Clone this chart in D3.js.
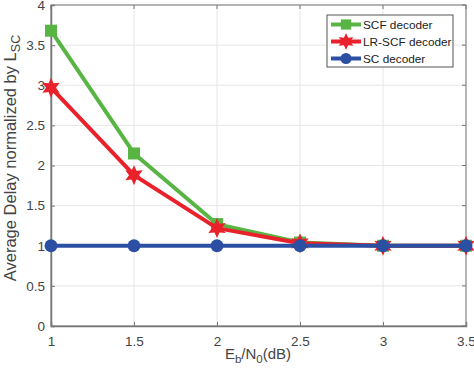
<!DOCTYPE html>
<html><head><meta charset="utf-8">
<script src="https://cdn.jsdelivr.net/npm/d3@7"></script>
<style>body{margin:0;background:#fff}svg{display:block}text{font-family:"Liberation Sans",Arial,sans-serif}</style>
</head><body>
<svg id="c" width="474" height="373"></svg>
<script>
const xValues = [1, 1.5, 2, 2.5, 3, 3.5];
const scfValues = [3.68, 2.15, 1.27, 1.04, 1.0, 1.0];
const lrscfValues = [2.97, 1.88, 1.22, 1.03, 1.0, 1.0];
const scValues = [1, 1, 1, 1, 1, 1];
const xTicks = [1, 1.5, 2, 2.5, 3, 3.5];
const yTicks = [0, 0.5, 1, 1.5, 2, 2.5, 3, 3.5, 4];
const seriesNames = ["SCF decoder", "LR-SCF decoder", "SC decoder"];

const svg = d3.select("#c");
const L = 51, R = 466, T = 5, B = 326;
const x = d3.scaleLinear().domain([1, 3.5]).range([L, R]);
const y = d3.scaleLinear().domain([0, 4]).range([B, T]);
const txtCol = "#444";

// grid
const g = svg.append("g");
g.selectAll(".gx").data(xTicks).enter().append("line")
  .attr("x1", d => x(d)).attr("x2", d => x(d)).attr("y1", T).attr("y2", B)
  .attr("stroke", "#e6e6e6").attr("stroke-width", 1);
g.selectAll(".gy").data(yTicks).enter().append("line")
  .attr("y1", d => y(d)).attr("y2", d => y(d)).attr("x1", L).attr("x2", R)
  .attr("stroke", "#e6e6e6").attr("stroke-width", 1);

// box
svg.append("rect").attr("x", L).attr("y", T).attr("width", R - L).attr("height", B - T)
  .attr("fill", "none").attr("stroke", "#777").attr("stroke-width", 1);

// axes
const xa = svg.append("g").attr("transform", `translate(0,${B})`)
  .call(d3.axisBottom(x).tickValues(xTicks).tickSize(-4).tickPadding(10).tickFormat(d3.format("")));
const ya = svg.append("g").attr("transform", `translate(${L},0)`)
  .call(d3.axisLeft(y).tickValues(yTicks).tickSize(-4).tickPadding(6).tickFormat(d3.format("")));
[xa, ya].forEach(a => {
  a.select(".domain").attr("stroke", "#777").attr("stroke-width", 1.5);
  a.selectAll(".tick line").attr("stroke", "#777");
  a.selectAll(".tick text").attr("fill", txtCol).style("font-size", "13.5px").style("font-family", '"Liberation Sans",Arial,sans-serif');
});
// top/right ticks
svg.append("g").selectAll("line").data(xTicks).enter().append("line")
  .attr("x1", d => x(d)).attr("x2", d => x(d)).attr("y1", T).attr("y2", T + 4).attr("stroke", "#777");
svg.append("g").selectAll("line").data(yTicks).enter().append("line")
  .attr("y1", d => y(d)).attr("y2", d => y(d)).attr("x1", R).attr("x2", R - 4).attr("stroke", "#777");

// series
const series = [
  {name: seriesNames[0], vals: scfValues, color: "#58b544", marker: "square"},
  {name: seriesNames[1], vals: lrscfValues, color: "#e8212b", marker: "star"},
  {name: seriesNames[2], vals: scValues, color: "#2a4fa3", marker: "circle"}
];
const line = d3.line().x(d => x(d[0])).y(d => y(d[1]));

function hexStar(r) {
  const pts = [];
  for (let i = 0; i < 12; i++) {
    const a = -Math.PI / 2 + i * Math.PI / 6;
    const rr = i % 2 === 0 ? r : r * 0.5;
    pts.push([rr * Math.cos(a), rr * Math.sin(a)]);
  }
  return "M" + pts.map(p => p.join(",")).join("L") + "Z";
}
function drawMarker(sel, type, color, k) {
  k = k || 1;
  if (type === "square") sel.append("rect").attr("x", -6 * k).attr("y", -6 * k).attr("width", 12 * k).attr("height", 12 * k).attr("fill", color);
  else if (type === "star") sel.append("path").attr("d", hexStar(10 * k)).attr("fill", color);
  else sel.append("circle").attr("r", 6.5 * k).attr("fill", color);
}

series.forEach(s => {
  const data = xValues.map((xv, i) => [xv, s.vals[i]]);
  svg.append("path").datum(data).attr("d", line).attr("fill", "none")
    .attr("stroke", s.color).attr("stroke-width", 4).attr("stroke-linejoin", "round");
  data.forEach(d => {
    const m = svg.append("g").attr("transform", `translate(${x(d[0])},${y(d[1])})`);
    drawMarker(m, s.marker, s.color);
  });
});

// legend
const lg = svg.append("g");
lg.append("rect").attr("x", 327).attr("y", 15).attr("width", 126).attr("height", 52)
  .attr("fill", "#fff").attr("stroke", "#555").attr("stroke-width", 1);
series.forEach((s, i) => {
  const yy = 24.5 + i * 17;
  lg.append("line").attr("x1", 331).attr("x2", 361).attr("y1", yy).attr("y2", yy)
    .attr("stroke", s.color).attr("stroke-width", 4);
  const m = lg.append("g").attr("transform", `translate(346,${yy})`);
  drawMarker(m, s.marker, s.color, 0.85);
  lg.append("text").attr("x", 363).attr("y", yy + 4.5).attr("fill", "#222")
    .style("font-size", "11.8px").text(s.name);
});

// axis labels
const xl = svg.append("text").attr("x", 258).attr("y", 359).attr("text-anchor", "middle")
  .attr("fill", txtCol).style("font-size", "15px");
xl.append("tspan").text("E");
xl.append("tspan").attr("dy", 4).style("font-size", "11.5px").text("b");
xl.append("tspan").attr("dy", -4).text("/N");
xl.append("tspan").attr("dy", 4).style("font-size", "11.5px").text("0");
xl.append("tspan").attr("dy", -4).text("(dB)");

const yl = svg.append("text").attr("transform", "translate(16,158) rotate(-90)")
  .attr("text-anchor", "middle").attr("fill", txtCol).style("font-size", "16.5px");
yl.append("tspan").text("Average Delay normalized by L");
yl.append("tspan").attr("dy", 4).style("font-size", "12.5px").text("SC");
</script>
</body></html>
